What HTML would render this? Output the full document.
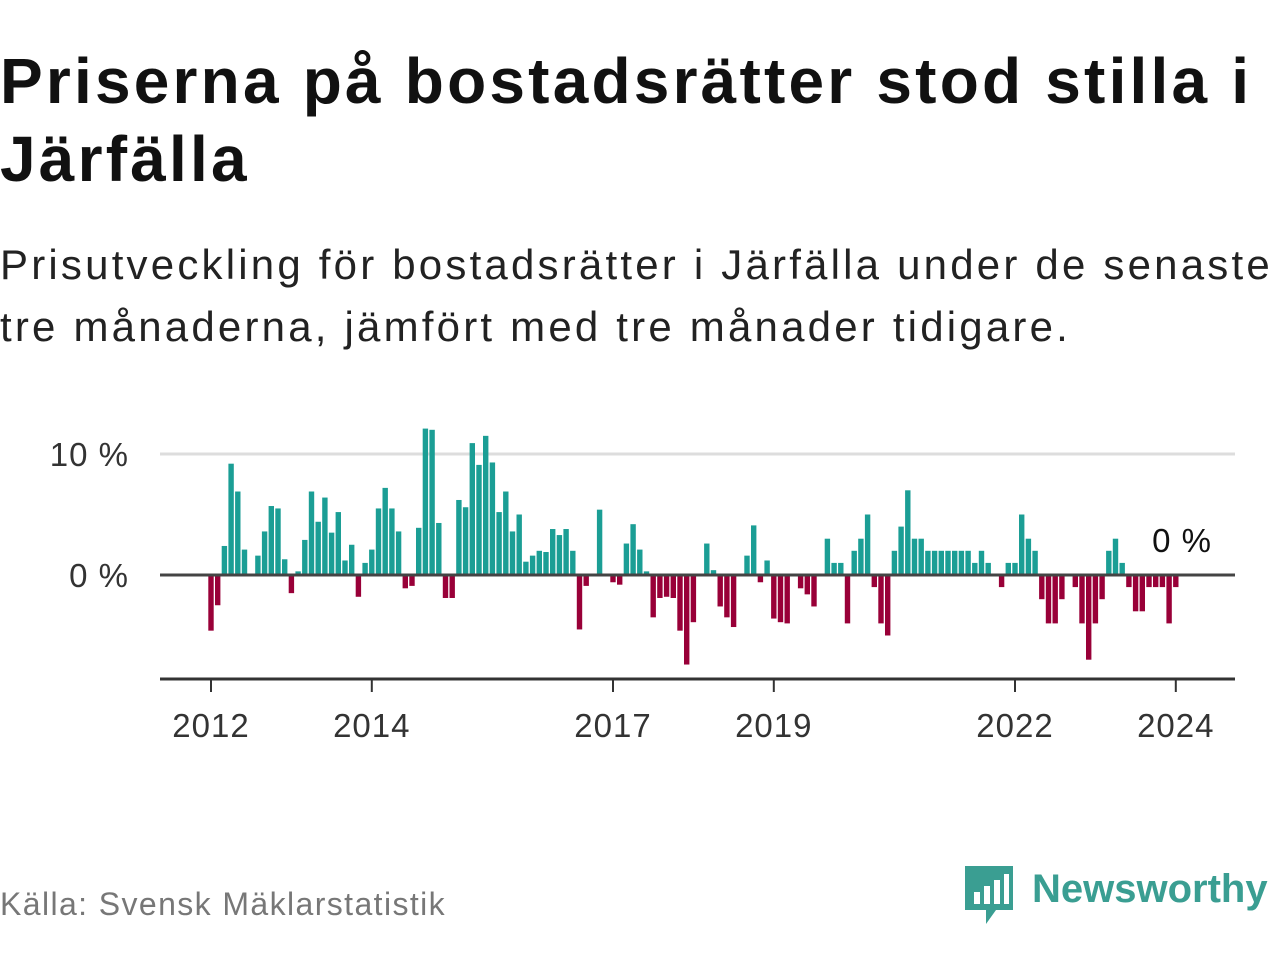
<!DOCTYPE html>
<html><head><meta charset="utf-8">
<style>
body{margin:0;width:1280px;height:960px;background:#fff;font-family:"Liberation Sans","DejaVu Sans",sans-serif;overflow:hidden;position:relative}
#title{position:absolute;left:0;top:42px;font-size:64px;letter-spacing:3.2px;font-weight:bold;line-height:78px;color:#111;margin:0;width:1300px;white-space:nowrap}
#sub{position:absolute;left:0;top:234px;font-size:42px;letter-spacing:3.2px;line-height:62px;color:#222;width:1300px;white-space:nowrap}
#src{position:absolute;left:0;top:886px;font-size:32px;letter-spacing:1.4px;color:#777}
#logo{position:absolute;left:962px;top:862px}
</style></head><body>
<h1 id="title">Priserna på bostadsrätter stod stilla i<br>Järfälla</h1>
<div id="sub">Prisutveckling för bostadsrätter i Järfälla under de senaste<br>tre månaderna, jämfört med tre månader tidigare.</div>
<svg id="chart" width="1280" height="960" style="position:absolute;left:0;top:0"></svg>
<div id="src">Källa: Svensk Mäklarstatistik</div>
<svg id="logo" width="318" height="66">
<path d="M3 4h48v44H34l-10 14v-14H3z" fill="#3a9e92"/>
<rect x="12" y="30" width="6" height="12" fill="#fff"/><rect x="22" y="24" width="6" height="18" fill="#fff"/><rect x="32" y="18" width="6" height="24" fill="#fff"/><rect x="42" y="12" width="5" height="30" fill="#fff"/>
<text x="70" y="40" font-size="40" font-weight="bold" fill="#3a9e92" font-family="Liberation Sans, sans-serif">Newsworthy</text>
</svg>
<script>
const values=[-4.6,-2.5,2.4,9.2,6.9,2.1,0,1.6,3.6,5.7,5.5,1.3,-1.5,0.3,2.9,6.9,4.4,6.4,3.5,5.2,1.2,2.5,-1.8,1.0,2.1,5.5,7.2,5.5,3.6,-1.1,-0.9,3.9,12.1,12.0,4.3,-1.9,-1.9,6.2,5.6,10.9,9.1,11.5,9.3,5.2,6.9,3.6,5.0,1.1,1.6,2.0,1.9,3.8,3.3,3.8,2.0,-4.5,-0.9,0,5.4,0,-0.6,-0.8,2.6,4.2,2.1,0.3,-3.5,-1.9,-1.8,-1.9,-4.6,-7.4,-3.9,0,2.6,0.4,-2.6,-3.5,-4.3,0,1.6,4.1,-0.6,1.2,-3.6,-3.9,-4.0,0,-1.1,-1.6,-2.6,0,3.0,1.0,1.0,-4.0,2.0,3.0,5.0,-1.0,-4.0,-5.0,2.0,4.0,7.0,3.0,3.0,2,2,2,2,2,2,2,1.0,2.0,1.0,0,-1.0,1.0,1.0,5.0,3.0,2.0,-2.0,-4.0,-4.0,-2.0,0,-1.0,-4.0,-7.0,-4.0,-2.0,2.0,3.0,1.0,-1.0,-3.0,-3.0,-1.0,-1.0,-1.0,-4.0,-1.0,0];
const yTicks=[0,10];
const yTickLabels=["0 %","10 %"];
const xTickYears=[2012,2014,2017,2019,2022,2024];
const startYear=2012;
const lastLabel="0 %";
const svg=document.getElementById('chart');
const NS='http://www.w3.org/2000/svg';
const x=i=>211+i*6.7;
const xYear=yr=>x((yr-startYear)*12);
const y=v=>575-v*12.1;
function mk(t,a){const e=document.createElementNS(NS,t);for(const k in a)e.setAttribute(k,a[k]);svg.appendChild(e);return e;}
yTicks.forEach((t,j)=>{
  if(t!==0){const g=mk('line',{x1:160,x2:1235,y1:y(t),y2:y(t),stroke:'#ddd','stroke-width':3});
  
  }
  const l=mk('text',{x:129,y:y(t)+12,'text-anchor':'end','font-size':33,'letter-spacing':1,fill:'#333','font-family':'Liberation Sans, sans-serif'});
  l.textContent=yTickLabels[j];
  
  
});
values.forEach((v,i)=>{
  if(v===0)return;
  const r=mk('rect',{x:x(i)-2.7,width:5.4,y:Math.min(y(v),y(0)),height:Math.abs(y(v)-y(0)),fill:v>0?'#1b9e95':'#990038'});
  
  
});
const z=mk('line',{x1:160,x2:1235,y1:y(0),y2:y(0),stroke:'#444','stroke-width':3});


const ax=mk('line',{x1:160,x2:1235,y1:679,y2:679,stroke:'#333','stroke-width':3});


xTickYears.forEach(yr=>{
  const t=mk('line',{x1:xYear(yr),x2:xYear(yr),y1:679,y2:692,stroke:'#333','stroke-width':2});
  
  
  const l=mk('text',{x:xYear(yr),y:737,'text-anchor':'middle','font-size':33,'letter-spacing':1,fill:'#333','font-family':'Liberation Sans, sans-serif'});
  l.textContent=yr;
  
  
});
const ll=mk('text',{x:1182,y:552,'text-anchor':'middle','font-size':33,'letter-spacing':1,fill:'#111','font-family':'Liberation Sans, sans-serif'});
ll.textContent=lastLabel;


</script>
</body></html>
